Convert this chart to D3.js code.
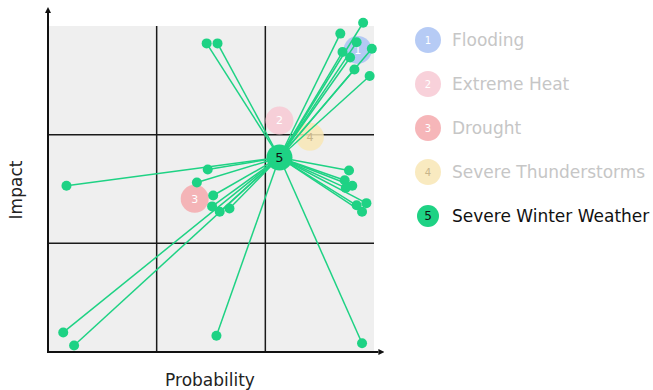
<!DOCTYPE html>
<html><head><meta charset="utf-8">
<script src="https://cdn.jsdelivr.net/npm/d3@7"></script>
<style>body{margin:0;background:#fff}svg{display:block}</style>
</head><body>
<svg id="c" width="653" height="390"></svg>
<script>
// Risk categories (legend) and their positions [probability, impact]
const riskNames = ["Flooding","Extreme Heat","Drought","Severe Thunderstorms","Severe Winter Weather"];
const riskIds = ["1","2","3","4","5"];
const riskProb = [2.85, 2.13, 1.35, 2.41, 2.13];
const riskImpact = [2.78, 2.13, 1.41, 1.98, 1.79];
const riskColors = ["#a9c2f3","#f7c9d3","#f5a9ad","#f8e6b5","#1ed284"];
const riskActive = [false,false,false,false,true];
// Connected items of risk 5
const linkProb = [1.46,1.56,2.90,2.69,2.84,2.98,2.71,2.78,2.82,2.96,1.47,0.17,1.37,1.52,1.51,1.58,1.67,2.77,2.73,2.80,2.74,2.93,2.84,2.89,0.14,0.24,1.55,2.89];
const linkImpact = [2.84,2.84,3.03,2.93,2.85,2.79,2.76,2.71,2.60,2.54,1.68,1.53,1.56,1.44,1.34,1.29,1.32,1.67,1.58,1.53,1.51,1.37,1.35,1.29,0.18,0.06,0.15,0.08];
const gridTicks = [1,2];
const xLabel = "Probability", yLabel = "Impact";

const FONT = "'DejaVu Sans', sans-serif";
const svg = d3.select("#c");
const x = d3.scaleLinear().domain([0,3]).range([48,374]);
const y = d3.scaleLinear().domain([0,3]).range([352,26]);
const green = "#1ed284";

svg.append("defs").append("marker").attr("id","arr").attr("viewBox","0 0 10 10")
  .attr("refX",0).attr("refY",5).attr("markerWidth",6).attr("markerHeight",6)
  .attr("markerUnits","userSpaceOnUse").attr("orient","auto")
  .append("path").attr("d","M0,0L10,5L0,10z").attr("fill","#111");

svg.append("rect").attr("x",x(0)).attr("y",y(3)).attr("width",x(3)-x(0)).attr("height",y(0)-y(3)).attr("fill","#efefef");

const g = svg.append("g");
g.selectAll("line.v").data(gridTicks).join("line").attr("x1",d=>x(d)).attr("x2",d=>x(d)).attr("y1",y(0)).attr("y2",y(3)).attr("stroke","#1a1a1a").attr("stroke-width",1.5);
g.selectAll("line.h").data(gridTicks).join("line").attr("x1",x(0)).attr("x2",x(3)).attr("y1",d=>y(d)).attr("y2",d=>y(d)).attr("stroke","#1a1a1a").attr("stroke-width",1.5);

// axes with arrows
svg.append("line").attr("x1",x(0)).attr("y1",y(0)).attr("x2",x(0)).attr("y2",y(3.12)).attr("stroke","#111").attr("stroke-width",2).attr("marker-end","url(#arr)");
svg.append("line").attr("x1",x(0)-1).attr("y1",y(0)).attr("x2",x(3.04)).attr("y2",y(0)).attr("stroke","#111").attr("stroke-width",2).attr("marker-end","url(#arr)");

// faded risk bubbles
const risks = riskNames.map((n,i)=>({n,id:riskIds[i],px:riskProb[i],py:riskImpact[i],c:riskColors[i],a:riskActive[i]}));
const faded = risks.filter(r=>!r.a);
const fb = svg.append("g").selectAll("g").data(faded).join("g").attr("transform",d=>`translate(${x(d.px)},${y(d.py)})`);
fb.append("circle").attr("r",14).attr("fill",d=>d.c).attr("opacity",0.85);
fb.append("text").text(d=>d.id).attr("text-anchor","middle").attr("dy","0.35em").attr("font-family",FONT).attr("font-size",11).attr("fill",d=>d.id==="4"?"#c8b58a":"#fff");

// links
const active = risks[4];
const links = linkProb.map((p,i)=>({p,q:linkImpact[i]}));
svg.append("g").selectAll("line").data(links).join("line")
  .attr("x1",x(active.px)).attr("y1",y(active.py)).attr("x2",d=>x(d.p)).attr("y2",d=>y(d.q))
  .attr("stroke",green).attr("stroke-width",1.5);
svg.append("g").selectAll("circle").data(links).join("circle")
  .attr("cx",d=>x(d.p)).attr("cy",d=>y(d.q)).attr("r",5).attr("fill",green);

const ag = svg.append("g").attr("transform",`translate(${x(active.px)},${y(active.py)})`);
ag.append("circle").attr("r",13).attr("fill",green);
ag.append("text").text(active.id).attr("text-anchor","middle").attr("dy","0.36em").attr("font-family",FONT).attr("font-size",13).attr("fill","#111");

// axis labels
svg.append("text").text(xLabel).attr("x",210).attr("y",386).attr("text-anchor","middle").attr("font-family",FONT).attr("font-size",17).attr("fill","#222");
svg.append("text").text(yLabel).attr("transform","translate(22,190) rotate(-90)").attr("text-anchor","middle").attr("font-family",FONT).attr("font-size",17).attr("fill","#222");

// legend
const lg = svg.append("g").selectAll("g").data(risks).join("g").attr("transform",(d,i)=>`translate(428,${40+i*44})`);
lg.append("circle").attr("r",d=>d.a?11:13).attr("fill",d=>d.c).attr("opacity",d=>d.a?1:0.85);
lg.append("text").text(d=>d.id).attr("text-anchor","middle").attr("dy","0.35em").attr("font-family",FONT).attr("font-size",d=>d.a?12:10).attr("fill",d=>d.a?"#111":(d.id==="4"?"#c8b58a":"#fff"));
lg.append("text").text(d=>d.n).attr("x",24).attr("dy","0.35em").attr("font-family",FONT).attr("font-size",17).attr("fill",d=>d.a?"#111":"#c6c6c6");
</script>
</body></html>
